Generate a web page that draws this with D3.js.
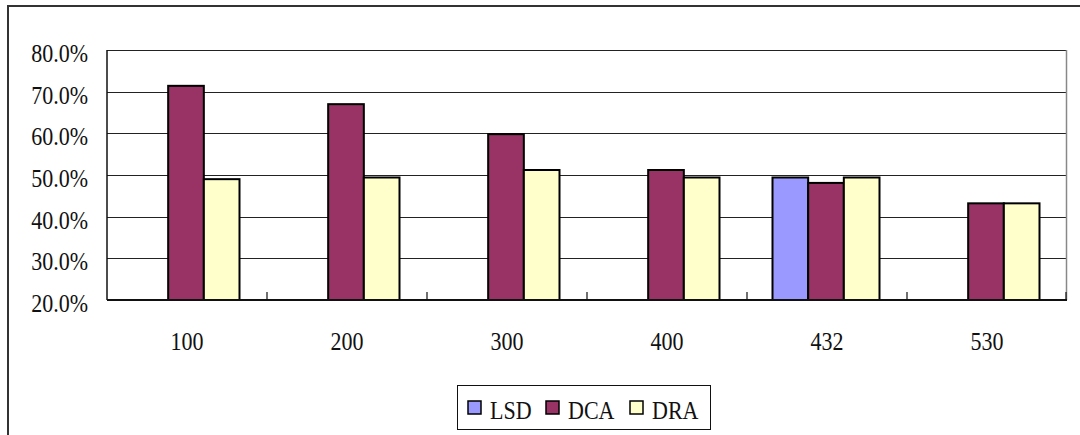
<!DOCTYPE html>
<html>
<head>
<meta charset="utf-8">
<script src="https://cdn.jsdelivr.net/npm/d3@7"></script>
<style>
  html, body { margin: 0; padding: 0; background: #fff; }
  svg { display: block; }
  text { font-family: "Liberation Serif", "DejaVu Serif", serif; fill: #111; }
</style>
</head>
<body>
<svg id="chart" width="1080" height="435"></svg>
<script>
// Categories along the x axis
const categories = ["100", "200", "300", "400", "432", "530"];
// Series names and colours
const seriesNames = ["LSD", "DCA", "DRA"];
const seriesColors = ["#9999FF", "#993366", "#FFFFCC"];
// Values per series (fractions); LSD is only measured at 432
const lsdValues = [null, null, null, null, 0.494, null];
const dcaValues = [0.714, 0.670, 0.598, 0.512, 0.481, 0.432];
const draValues = [0.490, 0.494, 0.512, 0.494, 0.494, 0.432];
// Y axis tick values
const yTicks = [0.2, 0.3, 0.4, 0.5, 0.6, 0.7, 0.8];

const seriesValues = [lsdValues, dcaValues, draValues];

const svg = d3.select("#chart");

const plot = { left: 107, right: 1067, top: 50, bottom: 300 };

// Outer chart frame (left and top edges)
svg.append("path")
  .attr("d", "M8,435 L8,6 L1080,6")
  .attr("fill", "none")
  .attr("stroke", "#333")
  .attr("stroke-width", 2);

const x = d3.scaleBand()
  .domain(categories)
  .range([plot.left, plot.right])
  .padding(0);

const groupWidth = 107;
const groupOffset = (x.bandwidth() - groupWidth) / 2 - 1;
const xs = d3.scaleBand()
  .domain(seriesNames)
  .range([groupOffset, groupOffset + groupWidth])
  .padding(0);

const y = d3.scaleLinear()
  .domain([0.2, 0.8])
  .range([plot.bottom, plot.top]);

// Horizontal gridlines
svg.append("g")
  .selectAll("line")
  .data(yTicks)
  .join("line")
  .attr("x1", plot.left)
  .attr("x2", plot.right)
  .attr("y1", d => Math.round(y(d)) + 0.5)
  .attr("y2", d => Math.round(y(d)) + 0.5)
  .attr("stroke", "#222")
  .attr("stroke-width", 1.2);

// Right edge of the plot area
svg.append("line")
  .attr("x1", plot.right - 0.5).attr("x2", plot.right - 0.5)
  .attr("y1", plot.top).attr("y2", plot.bottom)
  .attr("stroke", "#888")
  .attr("stroke-width", 1.5);

// Bars
const barData = [];
seriesNames.forEach((s, si) => {
  categories.forEach((c, ci) => {
    const v = seriesValues[si][ci];
    if (v != null) barData.push({ series: s, cat: c, value: v, color: seriesColors[si] });
  });
});

svg.append("g")
  .selectAll("rect")
  .data(barData)
  .join("rect")
  .attr("x", d => x(d.cat) + xs(d.series))
  .attr("y", d => y(d.value))
  .attr("width", xs.bandwidth())
  .attr("height", d => y(0.2) - y(d.value))
  .attr("fill", d => d.color)
  .attr("stroke", "#000")
  .attr("stroke-width", 2);

// Y axis line
svg.append("line")
  .attr("x1", plot.left).attr("x2", plot.left)
  .attr("y1", plot.top).attr("y2", plot.bottom)
  .attr("stroke", "#111")
  .attr("stroke-width", 1.5);

// X axis with tick marks between categories, pointing up
const xAxis = svg.append("g").attr("transform", `translate(0,${plot.bottom})`);
xAxis.append("line")
  .attr("x1", plot.left).attr("x2", plot.right)
  .attr("stroke", "#111")
  .attr("stroke-width", 2);
xAxis.selectAll("line.tick")
  .data(categories.slice(1).concat([null]))
  .join("line")
  .attr("class", "tick")
  .attr("x1", d => d ? x(d) : plot.right - 1)
  .attr("x2", d => d ? x(d) : plot.right - 1)
  .attr("y1", 0).attr("y2", -8)
  .attr("stroke", "#111")
  .attr("stroke-width", 1.2);

// Category labels
xAxis.selectAll("text")
  .data(categories)
  .join("text")
  .attr("transform", d => `translate(${x(d) + x.bandwidth() / 2},50) scale(0.88,1)`)
  .attr("text-anchor", "middle")
  .attr("font-size", 25)
  .text(d => d);

// Y tick labels
const fmt = d3.format(".1%");
svg.append("g")
  .selectAll("text")
  .data(yTicks)
  .join("text")
  .attr("transform", d => `translate(88,${y(d) + 12}) scale(0.88,1)`)
  .attr("text-anchor", "end")
  .attr("font-size", 25)
  .text(d => fmt(d));

// Legend
const legend = svg.append("g");
legend.append("rect")
  .attr("x", 457.5).attr("y", 385.5)
  .attr("width", 253).attr("height", 44)
  .attr("fill", "#fff")
  .attr("stroke", "#111")
  .attr("stroke-width", 1);

const legendX = [468, 546, 630];
const items = legend.selectAll("g.item")
  .data(seriesNames)
  .join("g")
  .attr("class", "item")
  .attr("transform", (d, i) => `translate(${legendX[i]},0)`);
items.append("rect")
  .attr("x", 0).attr("y", 401)
  .attr("width", 13).attr("height", 13)
  .attr("fill", (d, i) => seriesColors[i])
  .attr("stroke", "#000")
  .attr("stroke-width", 1.5);
items.append("text")
  .attr("transform", "translate(22,419) scale(0.88,1)")
  .attr("font-size", 25)
  .text(d => d);
</script>
</body>
</html>
